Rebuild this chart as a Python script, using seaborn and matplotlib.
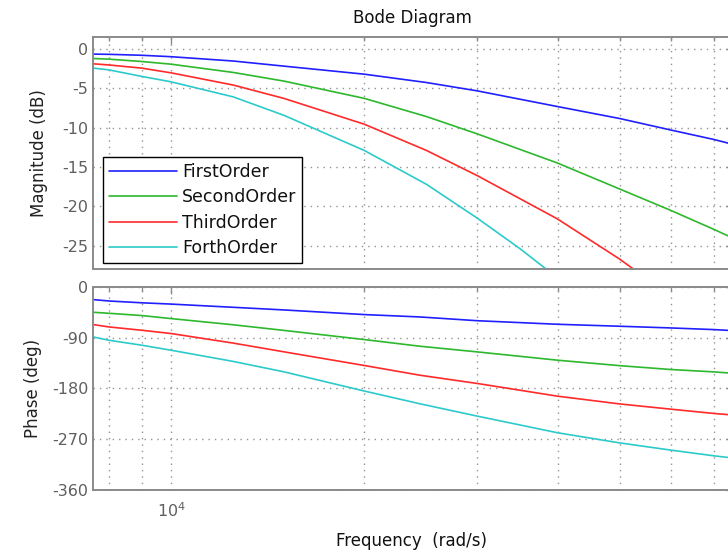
import matplotlib
matplotlib.use("Agg")
import matplotlib.pyplot as plt
from matplotlib.ticker import FixedLocator, LogLocator, NullFormatter
import pandas as pd
import seaborn as sns

# ---- data -------------------------------------------------------------
series_names = ["FirstOrder", "SecondOrder", "ThirdOrder", "ForthOrder"]
series_colors = ["#2020ff", "#2db82d", "#ff2a2a", "#2ccaca"]

# magnitude responses (dB) versus frequency (rad/s)
freq_mag_first = [7560, 8000, 9000, 10000, 12500, 15000, 20000, 25000,
                  30000, 40000, 50000, 60000, 70000, 74000]
mag_first = [-0.67, -0.70, -0.82, -1.00, -1.55, -2.20, -3.22, -4.28,
             -5.34, -7.33, -8.85, -10.3, -11.5, -12.0]

freq_mag_second = [7560, 8000, 9000, 10000, 12500, 15000, 20000, 25000,
                   30000, 40000, 50000, 60000, 70000, 74000]
mag_second = [-1.23, -1.31, -1.61, -1.95, -3.00, -4.10, -6.29, -8.60,
              -10.8, -14.5, -17.8, -20.5, -22.9, -23.8]

freq_mag_third = [7560, 8000, 9000, 10000, 12500, 15000, 20000, 25000,
                  30000, 40000, 50000, 52600]
mag_third = [-1.90, -2.05, -2.45, -3.05, -4.60, -6.30, -9.57, -12.9,
             -16.1, -21.6, -26.7, -28.0]

freq_mag_fourth = [7560, 8000, 9000, 10000, 12500, 15000, 20000, 25000,
                   30000, 35000, 38460]
mag_fourth = [-2.45, -2.67, -3.50, -4.19, -6.10, -8.45, -12.9, -17.2,
              -21.5, -25.4, -28.0]

# phase responses (deg) versus frequency (rad/s)
freq_phase = [7560, 8000, 9000, 10000, 12500, 15000, 20000, 24400,
              30000, 40000, 50000, 60000, 70000, 74000]
phase_first = [-22.3, -24.8, -28.0, -30.3, -36.0, -40.7, -48.9, -53.1,
               -59.8, -66.1, -69.6, -72.6, -75.5, -77.0]
phase_second = [-44.8, -46.6, -50.6, -56.0, -67.0, -77.0, -93.2, -105.0,
                -115.1, -129.8, -139.5, -146.3, -150.5, -152.5]
phase_third = [-66.6, -70.8, -76.7, -82.5, -99.5, -115.0, -139.2, -156.4,
               -171.1, -193.6, -207.4, -216.6, -224.2, -226.5]
phase_fourth = [-88.5, -94.4, -103.2, -112.1, -132.0, -150.5, -184.5, -207.0,
                -229.0, -258.5, -276.5, -289.2, -299.3, -302.5]

mag_ticks = [0, -5, -10, -15, -20, -25]
phase_ticks = [0, -90, -180, -270, -360]

# ---- tidy tables ------------------------------------------------------
mag_sets = [(freq_mag_first, mag_first), (freq_mag_second, mag_second),
            (freq_mag_third, mag_third), (freq_mag_fourth, mag_fourth)]
df_mag = pd.concat(
    [pd.DataFrame({"freq": f, "value": v, "system": name})
     for name, (f, v) in zip(series_names, mag_sets)],
    ignore_index=True)

phase_sets = [phase_first, phase_second, phase_third, phase_fourth]
df_phase = pd.concat(
    [pd.DataFrame({"freq": freq_phase, "value": v, "system": name})
     for name, v in zip(series_names, phase_sets)],
    ignore_index=True)

# ---- style ------------------------------------------------------------
sns.set_theme(style="white")
plt.rcParams["font.family"] = ["DejaVu Sans"]
plt.rcParams["axes.unicode_minus"] = False

W, H = 728, 552
fig = plt.figure(figsize=(W / 100, H / 100), dpi=100)


def box(left, top, right, bottom):
    return [left / W, 1 - bottom / H, (right - left) / W, (bottom - top) / H]


ax_mag = fig.add_axes(box(93, 37, 733, 269))
ax_ph = fig.add_axes(box(93, 287, 733, 490))

palette = dict(zip(series_names, series_colors))
spine_col = "#8a8a8a"
tick_lab_col = "#5f5f5f"
grid_kw = dict(color="#939393", linestyle=(0, (1, 3.6)), linewidth=1.0)

for ax, df in ((ax_mag, df_mag), (ax_ph, df_phase)):
    ax.set_xscale("log")
    sns.lineplot(data=df, x="freq", y="value", hue="system",
                 hue_order=series_names, palette=palette, estimator=None,
                 sort=False, linewidth=1.2, legend=False, ax=ax)
    ax.set_xlim(7559, 75060)
    ax.xaxis.set_major_locator(LogLocator(base=10))
    ax.xaxis.set_minor_locator(LogLocator(base=10, subs=range(2, 10)))
    ax.xaxis.set_minor_formatter(NullFormatter())
    ax.set_axisbelow(True)
    ax.grid(True, which="both", axis="x", **grid_kw)
    ax.grid(True, which="major", axis="y", **grid_kw)
    ax.tick_params(which="both", direction="in", top=True, right=True,
                   color=spine_col, labelcolor=tick_lab_col, labelsize=11.5,
                   width=1.0)
    ax.tick_params(which="major", length=5)
    ax.tick_params(which="minor", length=3)
    for s in ax.spines.values():
        s.set_color(spine_col)
        s.set_linewidth(1.4)
        s.set_visible(True)
    ax.set_xlabel("")

ax_mag.set_ylim(-27.95, 1.5)
ax_mag.yaxis.set_major_locator(FixedLocator(mag_ticks))
ax_mag.tick_params(axis="x", labelbottom=False)
ax_mag.set_ylabel("Magnitude (dB)", fontsize=12, color="#222222")
ax_mag.yaxis.set_label_coords(-0.071, 0.5)

ax_ph.set_ylim(-360, 0)
ax_ph.yaxis.set_major_locator(FixedLocator(phase_ticks))
ax_ph.set_ylabel("Phase (deg)", fontsize=12, color="#222222")
ax_ph.yaxis.set_label_coords(-0.080, 0.5)
ax_ph.tick_params(axis="x", pad=8)

leg = ax_mag.legend(ax_mag.get_lines()[:4], series_names, loc="lower left",
                    bbox_to_anchor=(103 / W, 1 - 263 / H),
                    bbox_transform=fig.transFigure, borderaxespad=0,
                    frameon=True, fancybox=False, edgecolor="black",
                    framealpha=1, fontsize=12.5, handlelength=3.9,
                    handletextpad=0.3, labelspacing=0.42, borderpad=0.35)
leg.get_frame().set_linewidth(1.0)
for t in leg.get_texts():
    t.set_color("#111111")

fig.text(412 / W, 1 - 18 / H, "Bode Diagram", ha="center", va="center",
         fontsize=12, color="#111111")
fig.text(411 / W, 1 - 541 / H, "Frequency  (rad/s)", ha="center",
         va="center", fontsize=12, color="#111111")

fig.savefig("out.png", dpi=100)
